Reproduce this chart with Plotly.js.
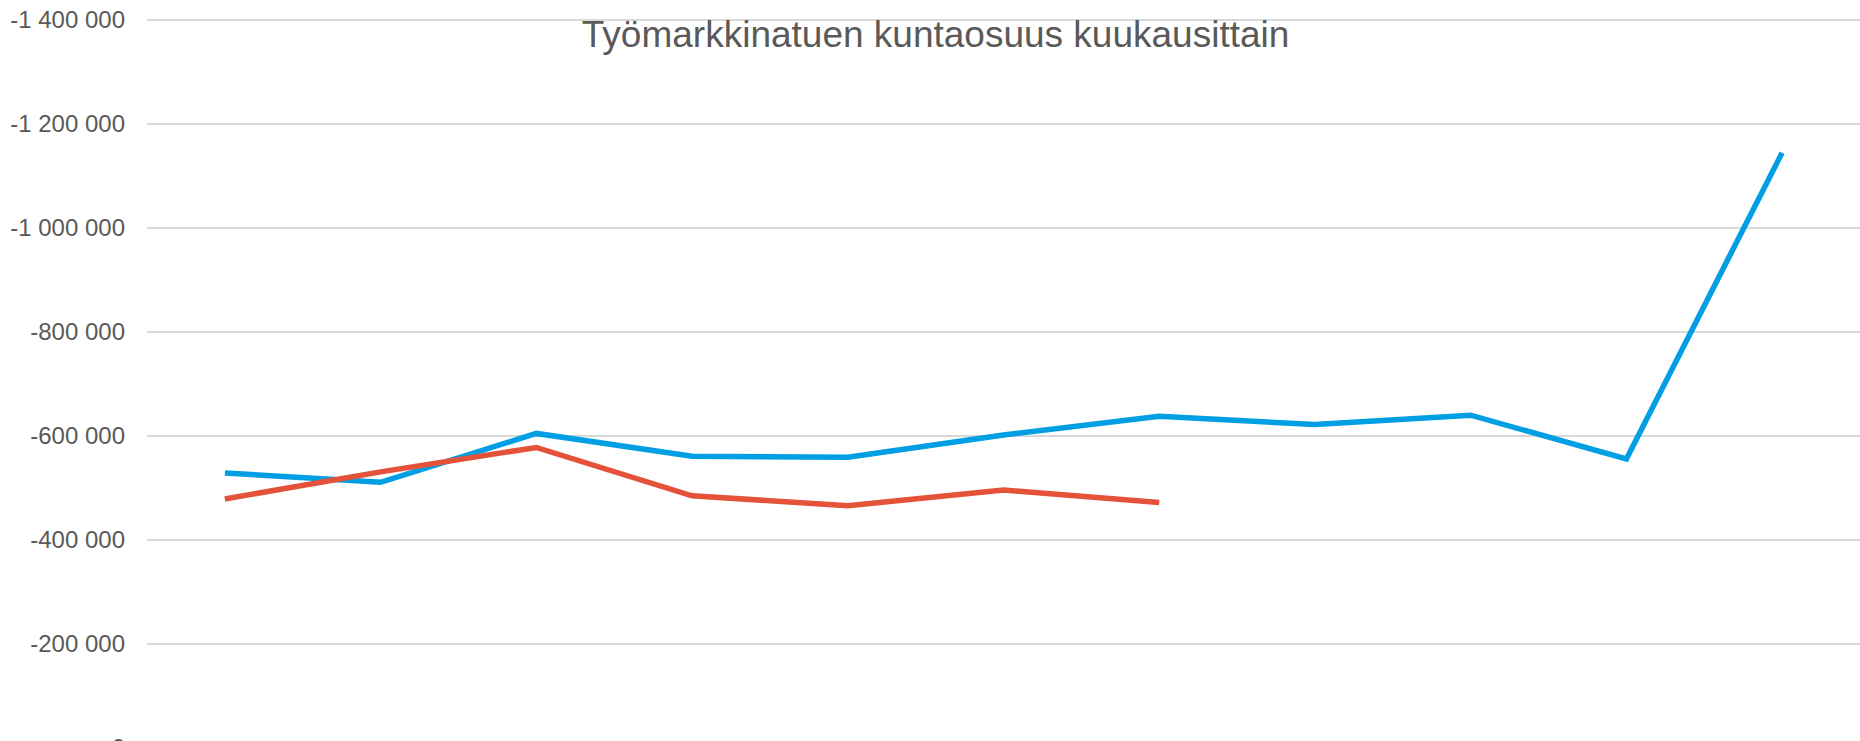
<!DOCTYPE html>
<html>
<head>
<meta charset="utf-8">
<script src="https://cdn.plot.ly/plotly-3.0.1.min.js"></script>
<style>
  html, body { margin: 0; padding: 0; overflow: hidden; background: #ffffff; }
  #chart { width: 1860px; height: 800px; }
</style>
</head>
<body>
<div id="chart"></div>
<script>
const chartTitle = 'Työmarkkinatuen kuntaosuus kuukausittain';
const months = ['tammi', 'helmi', 'maalis', 'huhti', 'touko', 'kesä', 'heinä', 'elo', 'syys', 'loka', 'marras'];
const blueName = 'Edellinen vuosi';
const blueValues = [-529000, -511000, -605000, -561000, -559000, -602000, -638000, -622000, -640000, -556000, -1145000];
const redName = 'Kuluva vuosi';
const redValues = [-479000, -531000, -578000, -485000, -466000, -496000, -472000];
const tickVals = [0, -200000, -400000, -600000, -800000, -1000000, -1200000, -1400000];
const tickText = ['0', '-200 000', '-400 000', '-600 000', '-800 000', '-1 000 000', '-1 200 000', '-1 400 000'];

const FONT = 'Liberation Sans, Arial, sans-serif';

const traces = [
  {
    type: 'scatter', mode: 'lines', name: blueName,
    x: months, y: blueValues,
    line: { color: '#009fe3', width: 5.5 }
  },
  {
    type: 'scatter', mode: 'lines', name: redName,
    x: months.slice(0, redValues.length), y: redValues,
    line: { color: '#e5523a', width: 5.5 }
  }
];

const layout = {
  width: 1860, height: 800,
  margin: { l: 147, r: 0, t: 19, b: 52 },
  paper_bgcolor: '#ffffff', plot_bgcolor: '#ffffff',
  showlegend: false,
  font: { family: FONT, size: 24, color: '#595959' },
  title: {
    text: chartTitle,
    font: { family: FONT, size: 37, color: '#595959' },
    x: 0.503, xanchor: 'center', xref: 'container',
    y: 0.974, yanchor: 'top', yref: 'container'
  },
  xaxis: {
    type: 'category',
    range: [-0.5, months.length - 0.5],
    showgrid: false, zeroline: false, showline: false,
    showticklabels: false, ticks: ''
  },
  yaxis: {
    range: [0, -1402000],
    tickvals: tickVals, ticktext: tickText,
    showgrid: true, gridcolor: '#d9d9d9', gridwidth: 1.5,
    zeroline: false, showline: false,
    ticks: '', ticklabelstandoff: 21,
    tickfont: { size: 24, color: '#595959', family: FONT }
  }
};

Plotly.newPlot('chart', traces, layout, { displayModeBar: false, staticPlot: true });
</script>
</body>
</html>
